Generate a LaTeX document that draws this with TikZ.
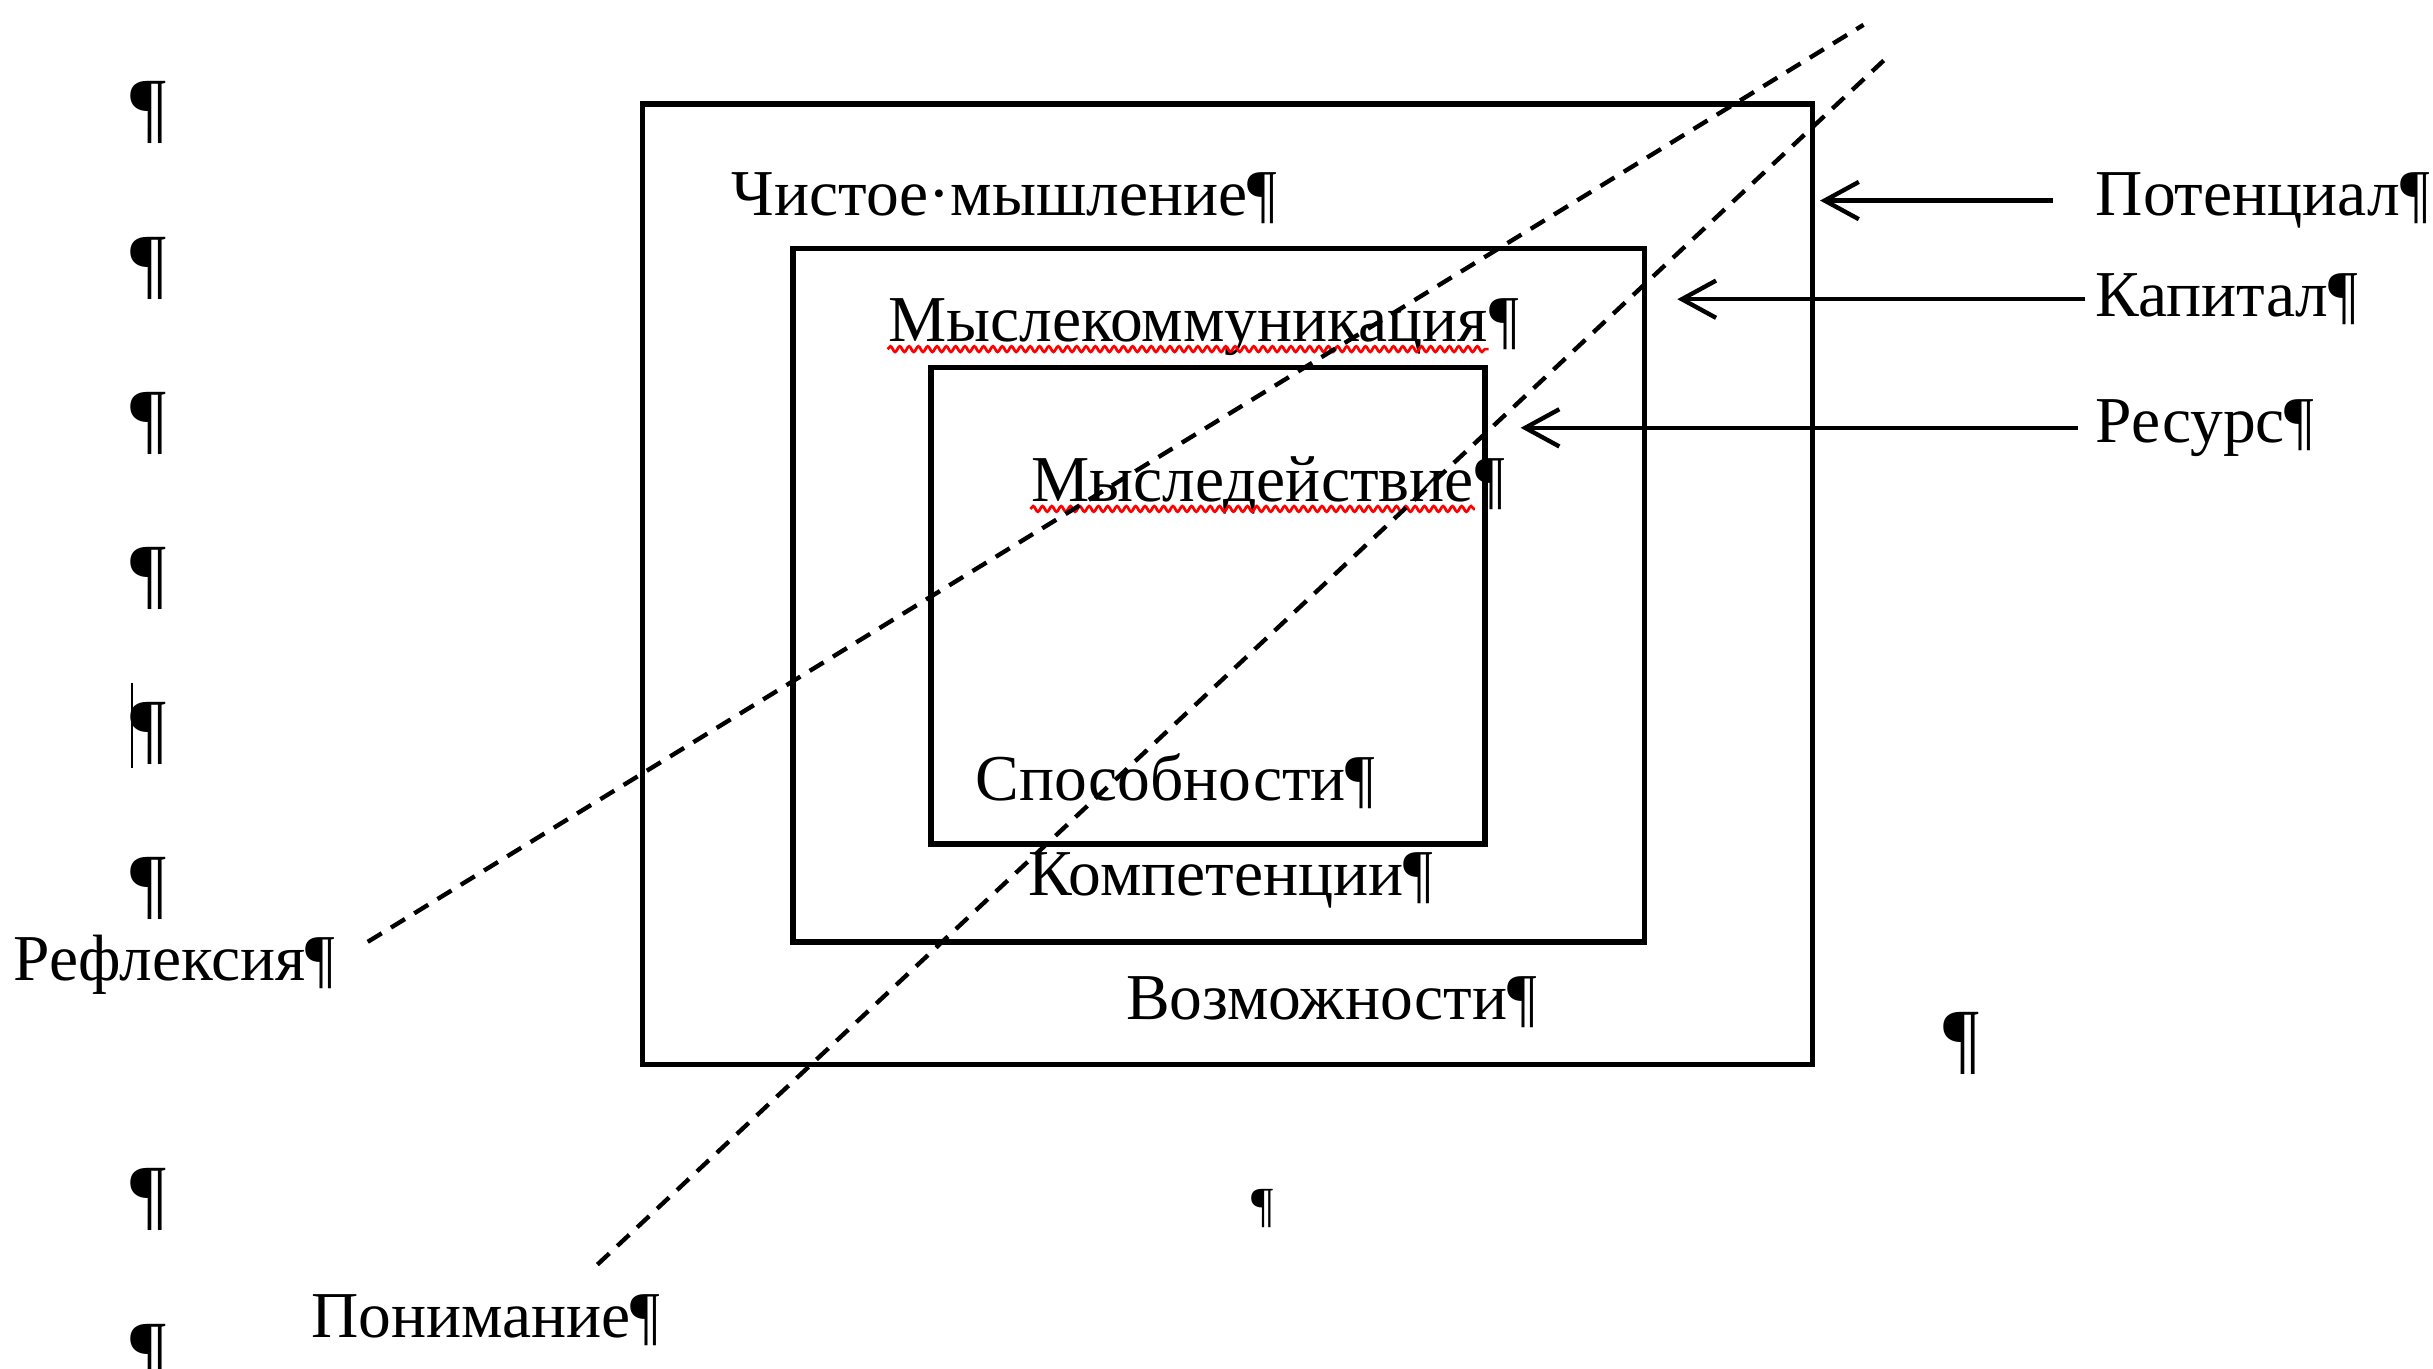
\documentclass[tikz,border=0pt]{standalone}
\usepackage{fontspec}
\setmainfont{Liberation Serif}
\usetikzlibrary{arrows.meta,decorations.pathmorphing}

\tikzset{
	lbl/.style={anchor=base west, inner sep=0pt, font=\fontsize{12}{14}\selectfont},
	pil/.style={anchor=north, inner sep=0pt, font=\fontsize{14.6}{16}\selectfont},
	boxline/.style={line width=1pt},
	cutline/.style={dash pattern=on 3pt off 2pt, line width=0.8pt},
	ptr/.style={line width=0.8pt, -{Straight Barb[length=2.2mm,width=2.4mm]}},
	spell/.style={red, line width=0.5pt, decorate, decoration={snake, segment length=0.6mm, amplitude=0.18mm}}
}

\begin{document}
\begin{tikzpicture}[x=0.01cm, y=-0.01cm]
		%%%%% START %%%%%
		\useasboundingbox (0,0) rectangle (1568,882);
		
		\draw[boxline] (414,67) rectangle (1168,686);
		\draw[boxline] (511,160) rectangle (1060,607);
		\draw[boxline] (600,237) rectangle (957,544);
		
		\node[lbl] (pure) at (471,139) {Чистое·мышление¶};
		\node[lbl] (comm) at (572,220) {Мыслекоммуникация};
		\node[lbl] (commP) at (comm.base east) {¶};
		\node[lbl] (act) at (664,323) {Мыследействие};
		\node[lbl] (actP) at (act.base east) {¶};
		\node[lbl] (abil) at (628,516) {Способности¶};
		\node[lbl] (comp) at (662,577) {Компетенции¶};
		\node[lbl] (poss) at (725,657) {Возможности¶};
		
		\draw[spell] ([yshift=-0.5mm]comm.base west) -- ([yshift=-0.5mm]comm.base east);
		\draw[spell] ([yshift=-0.5mm]act.base west) -- ([yshift=-0.5mm]act.base east);
		
		\node[lbl] (pot) at (1350,139) {Потенциал¶};
		\node[lbl] (cap) at (1350,204) {Капитал¶};
		\node[lbl] (res) at (1350,285) {Ресурс¶};
		
		\coordinate (potEdge) at (1173,0);
		\coordinate (capEdge) at (1081,0);
		\coordinate (resEdge) at (980,0);
		\draw[ptr, shorten <=2.7mm] (pot.west) -- (pot.west -| potEdge);
		\draw[ptr, shorten <=0.6mm] (cap.west) -- (cap.west -| capEdge);
		\draw[ptr, shorten <=1.1mm] (res.west) -- (res.west -| resEdge);
		
		\node[lbl] (refl) at (8,632) {Рефлексия¶};
		\node[lbl] (und) at (200,862) {Понимание¶};
		
		\coordinate (reflLow) at (237,607);
		\coordinate (reflTop) at (1201,16);
		\coordinate (undLow) at (385,815);
		\coordinate (undTop) at (1214,39);
		\draw[cutline] (reflLow) -- (reflTop);
		\draw[cutline] (undLow) -- (undTop);
		
		% empty paragraphs
		\foreach \y in {52,152,252,352,452,552,752,853}
			\node[pil] (p\y) at (96,\y) {¶};
		\draw[line width=0.5pt] (85,440) -- (85,495);
		\node[pil] (pRight) at (1264,652) {¶};
		\node[pil, font=\fontsize{9}{10}\selectfont] (pMid) at (814,766) {¶};
		
		%%%%% END %%%%%
\end{tikzpicture}
\end{document}
